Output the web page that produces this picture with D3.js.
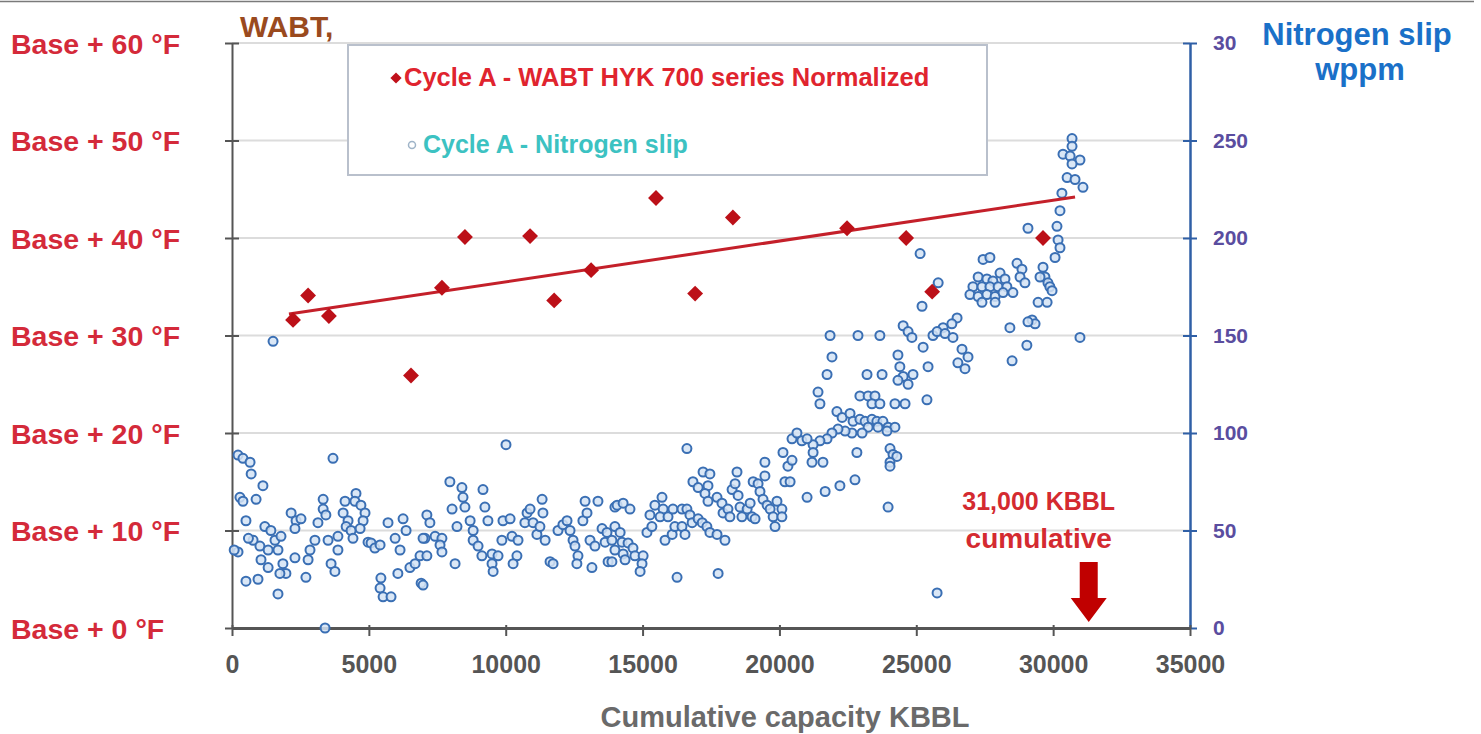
<!DOCTYPE html>
<html>
<head>
<meta charset="utf-8">
<script src="https://cdn.jsdelivr.net/npm/d3@7"></script>
<style>
body { margin: 0; background: #fff; }
svg text { font-family: "Liberation Sans", Arial, sans-serif; font-weight: bold; }
</style>
</head>
<body>
<svg id="chart" width="1481" height="734"></svg>
<script>
// WABT (left axis, deg F above base)
var wabtX = [2230, 2780, 3540, 6540, 7670, 8510, 10890, 11770, 13120, 15490, 16920, 18300, 22470, 24630, 25580, 29630];
var wabtY = [31.6, 34.1, 32.0, 25.9, 34.9, 40.1, 40.2, 33.6, 36.7, 44.1, 34.3, 42.1, 41.0, 40.0, 34.5, 40.0];

// trend line end points
var trendX = [2080, 30800];
var trendY = [32.2, 44.2];

// nitrogen slip (right axis, wppm)
var slipX = [
 220, 400, 660, 700, 1130, 3690, 290, 400, 880, 510, 220, 510, 950, 1680, 1200, 1420, 770, 1020, 1320, 1570,
 1790, 1680, 1060, 1320, 1860, 1970, 1750, 2300, 2160, 2340, 2520, 2300, 2700, 2850, 2780, 3030, 3140, 3330, 3330, 3430,
 3510, 3620, 3760, 3870, 3870, 4130, 4060, 4240, 4170, 4350, 4420, 4530, 4490, 4710, 4860, 4790, 4680, 3400, 4970, 5080,
 5220, 5410, 5440, 5410, 5520, 5810, 5700, 5960, 6140, 6060, 6250, 6360, 6500, 6690, 6870, 6910, 7050, 1500, 80, 600,
 10010, 7960, 8400, 8440, 8510, 8040, 9170, 9240, 9350, 7120, 7230, 6980, 7420, 7670, 7600, 7120, 7670, 8150, 6980, 8220,
 8700, 8810, 8810, 8990, 9130, 9500, 9720, 9500, 9540, 9900, 10160, 9860, 10230, 10450, 10410, 10270, 10780, 10890, 10700, 11000,
 11140, 11330, 11360, 11250, 11440, 11620, 11730, 11910, 12090, 12240, 12350, 12460, 12530, 12640, 12600, 12820, 12970, 12900, 13370, 13080,
 13260, 13150, 13520, 13700, 13630, 13740, 13990, 13990,
 16620, 14070, 14290, 14540, 13990, 14180, 13880, 14250, 14470, 14650, 14290, 14720, 15020, 13880, 14360, 14980, 14910, 16260, 17760, 15160,
 15340, 15270, 15450, 15710, 15750, 15640, 15930, 15820, 16080, 16180, 16440, 16550, 16110, 16440, 16620, 16730, 16810, 17030, 17180, 17350,
 17460, 17720, 18010, 16840, 17030, 17210, 17460, 17390, 17280, 17390, 17720, 17900, 17940, 18120, 18190, 18270, 18450, 18380, 18490, 18560,
 18630, 18820, 18930, 19000, 19110, 19040, 19220, 19290, 19400, 19550, 19470, 19470, 19660, 19770, 19840, 19910, 20090, 20130, 20200, 20390,
 20310, 20460, 20460, 20640, 20820, 21010,
 25140, 25800, 25210, 21850, 22870, 23670, 24520, 24700, 24840, 25250, 25610, 21920, 21740, 21410, 21480, 23200, 23750, 24330, 24400, 24520,
 24880, 24330, 24700, 25430, 25390, 24220, 24590, 22940, 23240, 23490, 23380, 23670, 22100, 22290, 22580, 22690, 22940, 23130, 23380, 23560,
 23780, 23970, 24220, 23930, 23600, 23240, 23020, 22650, 22400, 22140, 21920, 21740, 21480, 21230, 21010, 21230, 21190, 21590, 22830, 24040,
 24150, 24290, 24040, 24040, 21670, 22210, 22760, 23970, 20090, 25760,
 30690, 30690, 30360, 30620, 30980, 30690, 30510, 30800, 31090, 30320, 30250, 30140, 30180, 30250, 30070, 29080, 27440, 27690, 27260, 27580,
 27800, 28060, 28240, 27070, 27400, 27690, 27990, 28310, 26960, 27260, 27580, 27880, 28170, 28530, 27400, 27880, 28680, 28860, 28790, 28970,
 29630, 29700, 29810, 29880, 29960, 29520, 29450, 29780, 29230, 29340, 29080, 28420, 29040, 28500, 30980, 26490, 26300, 25980, 25760, 26050,
 26340, 26670, 26890, 26520, 26780
];
var slipY = [
 88.7, 87, 85, 79, 73, 87, 67, 65, 66, 55, 39, 24, 25, 17.5, 52, 50, 45, 42, 40, 45,
 47, 40, 35, 31, 33, 28, 28, 36, 59, 55, 56, 51, 26, 40, 35, 45, 54, 66, 61, 58,
 45, 33, 29, 40, 47, 65, 59, 55, 52, 50, 46, 69, 65, 63, 59, 55, 51, 0, 44, 43.6,
 41, 42.6, 25.6, 20.5, 16, 16, 54, 46, 40, 28, 56, 50, 31, 33, 37, 23, 46, 147, 40, 46,
 94, 75, 72, 67, 62, 61, 71, 62, 55, 58, 54, 46, 47, 46, 42.6, 37, 39, 33, 22, 52,
 55, 50, 45, 42, 37, 38, 37, 33, 29, 55, 56, 45, 47, 45, 37, 33, 59, 61, 54, 54,
 48, 66, 59, 52, 45, 34, 33, 50, 53, 55, 50, 45, 42, 37, 33, 55, 59, 65, 65, 45,
 42, 31, 51, 49, 44, 34, 62, 40,
 92, 63, 64, 61, 52, 49, 45, 44, 43.6, 41, 38, 37, 37, 34, 35, 33, 29, 26, 28, 49,
 52, 58, 63, 67, 61, 57, 57, 45, 48, 52, 52, 48, 61, 61, 61, 58, 54, 56, 54, 52,
 49, 48, 45, 75, 72, 80, 79, 73, 69, 65, 67, 64, 59, 61, 57, 71, 80, 74, 68, 62,
 57, 61, 64, 57, 56, 75, 74, 70, 66, 63, 78, 85, 61, 57, 52, 65, 61, 90, 75, 75,
 83, 86, 97, 100, 96, 67,
 192, 177, 165, 150, 150, 150, 155, 152, 149, 144, 150, 139, 130, 121, 115, 130, 130, 140, 134, 129,
 130, 127, 125, 134, 117, 115, 115, 119, 119, 119, 115, 115, 111, 108, 110, 106, 107, 106, 107, 106,
 106, 103, 103, 101, 103, 103, 100, 100, 101, 102, 100, 97, 96, 94, 97, 90, 85, 85, 90, 92,
 89, 88, 85, 83, 70, 73, 76, 62, 57, 18,
 251, 247, 243, 242, 240, 238, 231, 230, 226, 223, 214, 206, 199, 195, 190, 205, 189, 190, 180, 179,
 178, 182, 179, 175, 175, 175, 175, 175, 171, 170, 171, 170, 172, 172, 167, 167, 187, 184, 180, 177,
 185, 180, 177, 175, 173, 180, 167, 167, 158, 156, 157, 154, 145, 137, 149, 159, 156, 154, 152, 151,
 149, 143, 139, 136, 133
];

var xTicks = [0, 5000, 10000, 15000, 20000, 25000, 30000, 35000];
var leftTicks = [0, 10, 20, 30, 40, 50, 60];
var leftLabels = ['Base + 0 °F', 'Base + 10 °F', 'Base + 20 °F', 'Base + 30 °F', 'Base + 40 °F', 'Base + 50 °F', 'Base + 60 °F'];
var rightTicks = [0, 50, 100, 150, 200, 250, 300];
var rightLabels = ['0', '50', '100', '150', '200', '250', '30'];
var legendNames = ['Cycle A - WABT HYK 700 series Normalized', 'Cycle A - Nitrogen slip'];

var plotL = 232, plotR = 1190, plotT = 43, plotB = 628;

var svg = d3.select('#chart');
var x = d3.scaleLinear().domain([0, 35000]).range([plotL, plotR]);
var yL = d3.scaleLinear().domain([0, 60]).range([plotB, plotT]);
var yR = d3.scaleLinear().domain([0, 300]).range([plotB, plotT]);

// thin frame line at the very top
svg.append('line').attr('x1', 0).attr('x2', 1474).attr('y1', 1.5).attr('y2', 1.5)
	.attr('stroke', '#7a7a7a').attr('stroke-width', 1.5);

// grid
svg.append('g').selectAll('line').data(leftTicks.slice(1)).enter().append('line')
	.attr('x1', plotL).attr('x2', plotR)
	.attr('y1', d => yL(d)).attr('y2', d => yL(d))
	.attr('stroke', '#dcdcdc').attr('stroke-width', 2);

// left axis
var gl = svg.append('g').attr('transform', 'translate(' + plotL + ',0)')
	.call(d3.axisLeft(yL).tickValues(leftTicks).tickFormat((d, i) => leftLabels[i]).tickSizeOuter(0).tickSizeInner(7));
gl.select('.domain').attr('stroke', '#555').attr('stroke-width', 2);
gl.selectAll('.tick line').attr('x1', -7).attr('x2', 7).attr('stroke', '#555').attr('stroke-width', 2);
gl.selectAll('.tick text').attr('x', 11 - plotL).attr('text-anchor', 'start')
	.attr('fill', '#d42a3a').style('font-size', '28.5px').attr('dy', '0.36em');

// right axis
var gr = svg.append('g').attr('transform', 'translate(' + plotR + ',0)')
	.call(d3.axisRight(yR).tickValues(rightTicks).tickFormat((d, i) => rightLabels[i]).tickSizeOuter(0).tickSizeInner(7).tickPadding(16));
gr.select('.domain').attr('stroke', '#2f5fa6').attr('stroke-width', 2.5);
gr.selectAll('.tick line').attr('x1', -7).attr('x2', 7).attr('stroke', '#2f5fa6').attr('stroke-width', 2);
gr.selectAll('.tick text').attr('fill', '#5a4d9f').style('font-size', '21px');

// bottom axis
var gb = svg.append('g').attr('transform', 'translate(0,' + plotB + ')')
	.call(d3.axisBottom(x).tickValues(xTicks).tickFormat(d3.format('d')).tickSizeOuter(0).tickSizeInner(8).tickPadding(19));
gb.select('.domain').attr('stroke', '#555').attr('stroke-width', 3);
gb.selectAll('.tick line').attr('y1', -3).attr('stroke', '#555').attr('stroke-width', 2);
gb.selectAll('.tick text').attr('fill', '#555').style('font-size', '25px');

// axis titles
svg.append('text').attr('x', 240).attr('y', 37).attr('fill', '#9a4a1e').style('font-size', '30px').text('WABT,');
svg.append('text').attr('x', 1357).attr('y', 45).attr('text-anchor', 'middle').attr('fill', '#1a70c8')
	.style('font-size', '31px').text('Nitrogen slip');
svg.append('text').attr('x', 1360).attr('y', 80).attr('text-anchor', 'middle').attr('fill', '#1a70c8')
	.style('font-size', '31px').text('wppm');
svg.append('text').attr('x', 785).attr('y', 727).attr('text-anchor', 'middle').attr('fill', '#6a6a6a')
	.style('font-size', '29px').text('Cumulative capacity KBBL');

// legend
var lg = svg.append('g');
lg.append('rect').attr('x', 348).attr('y', 45).attr('width', 639).attr('height', 130)
	.attr('fill', '#fff').attr('stroke', '#b9c0cc').attr('stroke-width', 2);
lg.append('path').attr('d', d3.symbol(d3.symbolDiamond2, 80)()).attr('transform', 'translate(396,78)').attr('fill', '#c0101a');
lg.append('text').attr('x', 404).attr('y', 86).attr('fill', '#e0242e').style('font-size', '25.5px').text(legendNames[0]);
lg.append('circle').attr('cx', 412).attr('cy', 145).attr('r', 3.5).attr('fill', '#fff').attr('stroke', '#9fb4c8').attr('stroke-width', 1.5);
lg.append('text').attr('x', 423).attr('y', 153).attr('fill', '#3cc2c2').style('font-size', '25px').text(legendNames[1]);

// nitrogen slip points
var pts = slipX.map((v, i) => ({x: v, y: slipY[i]}));
svg.append('g').selectAll('circle').data(pts).enter().append('circle')
	.attr('cx', d => x(d.x)).attr('cy', d => yR(d.y)).attr('r', 4.5)
	.attr('fill', '#d3e3f4').attr('fill-opacity', 0.85)
	.attr('stroke', '#3a6fb4').attr('stroke-width', 2);

// trend line
var trend = trendX.map((v, i) => ({x: v, y: trendY[i]}));
svg.append('path').datum(trend)
	.attr('d', d3.line().x(d => x(d.x)).y(d => yL(d.y)))
	.attr('stroke', '#c4202a').attr('stroke-width', 3).attr('fill', 'none');

// WABT points
var wp = wabtX.map((v, i) => ({x: v, y: wabtY[i]}));
svg.append('g').selectAll('path').data(wp).enter().append('path')
	.attr('d', d3.symbol(d3.symbolDiamond2, 160)())
	.attr('transform', d => 'translate(' + x(d.x) + ',' + yL(d.y) + ')')
	.attr('fill', '#bc1018');

// annotation
var ax = x(31300);
svg.append('text').attr('x', ax - 50).attr('y', 510).attr('text-anchor', 'middle').attr('fill', '#d42a30')
	.style('font-size', '25px').text('31,000 KBBL');
svg.append('text').attr('x', ax - 50).attr('y', 548).attr('text-anchor', 'middle').attr('fill', '#d42a30')
	.style('font-size', '28px').text('cumulative');
svg.append('path')
	.attr('d', 'M' + (ax - 9) + ',562 L' + (ax + 9) + ',562 L' + (ax + 9) + ',598 L' + (ax + 18) + ',598 L' + ax + ',622 L' + (ax - 18) + ',598 L' + (ax - 9) + ',598 Z')
	.attr('fill', '#c00000');
</script>
</body>
</html>
